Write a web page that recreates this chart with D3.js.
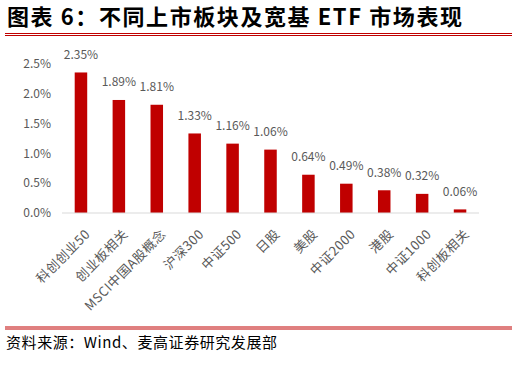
<!DOCTYPE html>
<html><head><meta charset="utf-8">
<script src="https://cdn.jsdelivr.net/npm/d3@7"></script>
<style>
html,body{margin:0;padding:0;background:#fff;}
svg{display:block;}
</style></head>
<body>
<svg id="chart" width="518" height="365"></svg>
<script>
const categories = ["科创创业50","创业板相关","MSCI中国A股概念","沪深300","中证500","日股","美股","中证2000","港股","中证1000","科创板相关"];
const values = [2.35, 1.89, 1.81, 1.33, 1.16, 1.06, 0.64, 0.49, 0.38, 0.32, 0.06];
const yTicks = [0, 0.5, 1.0, 1.5, 2.0, 2.5];
const titleText = "图表 6：不同上市板块及宽基 ETF 市场表现";
const sourceText = "资料来源：Wind、麦高证券研究发展部";

const svg = d3.select("#chart");
const red = "#C00000";
const gray = "#595959";
const cjk = "'Noto Sans CJK SC','Noto Sans',sans-serif";

// title
svg.append("text").attr("x", 7).attr("y", 25)
  .attr("font-family", cjk).attr("font-weight", "bold").attr("font-size", 22)
  .attr("fill", "#000").attr("textLength", 455).attr("lengthAdjust", "spacing")
  .text(titleText);
[33.5, 35.5].forEach(y => svg.append("line").attr("x1", 5).attr("x2", 512)
  .attr("y1", y).attr("y2", y).attr("stroke", red).attr("stroke-width", 1));

const x = d3.scaleBand().domain(categories).range([62, 479]).paddingInner(0.67).paddingOuter(0.335);
const y = d3.scaleLinear().domain([0, 2.5]).range([213, 63.5]);

// y axis labels
const yAxis = d3.axisLeft(y).tickValues(yTicks)
  .tickFormat(v => d3.format(".1f")(v) + "%").tickSize(0).tickPadding(0);
const ya = svg.append("g").attr("transform", "translate(51,0)").call(yAxis);
ya.select(".domain").remove();
ya.selectAll("text").attr("font-family", cjk).attr("font-size", 12).attr("fill", gray);

// bars
svg.append("g").selectAll("rect").data(values).join("rect")
  .attr("x", (d, i) => x(categories[i]))
  .attr("width", x.bandwidth())
  .attr("y", d => y(d))
  .attr("height", d => y(0) - y(d))
  .attr("fill", red);

// baseline
svg.append("line").attr("x1", 62).attr("x2", 479).attr("y1", y(0)).attr("y2", y(0))
  .attr("stroke", "#d9d9d9").attr("stroke-width", 1);

// value labels
svg.append("g").selectAll("text").data(values).join("text")
  .attr("x", (d, i) => x(categories[i]) + x.bandwidth() / 2)
  .attr("y", d => y(d) - 13.5)
  .attr("text-anchor", "middle")
  .attr("font-family", cjk).attr("font-size", 12).attr("fill", gray)
  .text(d => d.toFixed(2) + "%");

// x labels
svg.append("g").selectAll("text").data(categories).join("text")
  .attr("transform", d => `translate(${x(d) + x.bandwidth() / 2 + 7.5},232.5) rotate(-45)`)
  .attr("text-anchor", "end").attr("dominant-baseline", "middle")
  .attr("font-family", cjk).attr("font-size", 13).attr("letter-spacing", 0.5).attr("fill", gray)
  .text(d => d);

// footer
[327, 329].forEach(y0 => svg.append("line").attr("x1", 5).attr("x2", 512)
  .attr("y1", y0).attr("y2", y0).attr("stroke", red).attr("stroke-width", 1));
svg.append("text").attr("x", 6).attr("y", 348)
  .attr("font-family", cjk).attr("font-size", 15).attr("fill", "#000")
  .attr("textLength", 271).attr("lengthAdjust", "spacing")
  .text(sourceText);
</script>
</body></html>
